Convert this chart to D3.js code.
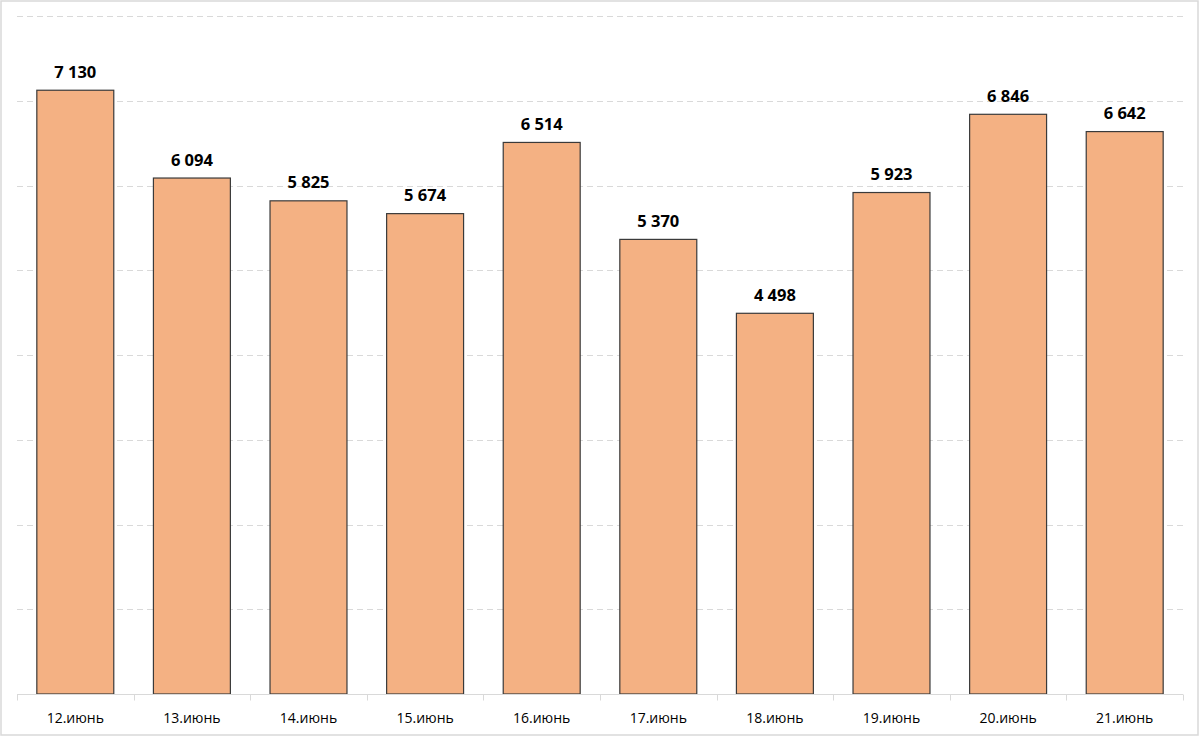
<!DOCTYPE html>
<html><head><meta charset="utf-8">
<script src="https://cdn.jsdelivr.net/npm/d3@7"></script>
<style>body{margin:0;background:#fff}svg{display:block}</style>
</head><body>
<svg id="c" width="1200" height="737"></svg>
<script>
const categories = ["12.июнь","13.июнь","14.июнь","15.июнь","16.июнь","17.июнь","18.июнь","19.июнь","20.июнь","21.июнь"];
const values = [7130,6094,5825,5674,6514,5370,4498,5923,6846,6642];
const yTicks = [0,1000,2000,3000,4000,5000,6000,7000,8000];

const svg = d3.select("#c");
const W=1200,H=737;
const m={l:17,r:17,t:16,b:43};
svg.append("rect").attr("x",1).attr("y",1).attr("width",W-3).attr("height",H-3)
  .attr("fill","#fff").attr("stroke","#d9d9d9").attr("stroke-width",1.5);

const x = d3.scaleBand().domain(categories).range([m.l,W-m.r]).paddingInner(0.34).paddingOuter(0.17);
const y = d3.scaleLinear().domain([0,8000]).range([H-m.b,m.t]);

const g = svg.append("g");
g.selectAll("line.grid").data(yTicks.slice(1)).join("line").attr("class","grid")
  .attr("x1",m.l).attr("x2",W-m.r).attr("y1",d=>Math.round(y(d))+0.5).attr("y2",d=>Math.round(y(d))+0.5)
  .attr("stroke","#d9d9d9").attr("stroke-width",1).attr("stroke-dasharray","6,4");

g.selectAll("rect.bar").data(values).join("rect").attr("class","bar")
  .attr("x",(d,i)=>x(categories[i])).attr("width",x.bandwidth())
  .attr("y",d=>y(d)+0.5).attr("height",d=>y(0)-y(d)-0.5)
  .attr("fill","#F4B183").attr("stroke","#3a3a3a").attr("stroke-width",1.2);

g.selectAll("text.val").data(values).join("text").attr("class","val")
  .attr("x",(d,i)=>x(categories[i])+x.bandwidth()/2).attr("y",d=>y(d)-12)
  .attr("text-anchor","middle").attr("font-family","Open Sans, sans-serif").attr("font-weight","bold")
  .attr("font-size",16.5).attr("fill","#000")
  .text(d=>d3.format(",")(d).replace(/,/g," "));

// x axis
const base = Math.round(y(0))+0.5;
g.append("line").attr("x1",m.l).attr("x2",W-m.r).attr("y1",base).attr("y2",base).attr("stroke","#d9d9d9");
const bounds = d3.range(categories.length+1).map(i=>m.l + (W-m.l-m.r)*i/categories.length);
g.selectAll("line.tk").data(bounds).join("line").attr("class","tk")
  .attr("x1",d=>Math.round(d)+0.5).attr("x2",d=>Math.round(d)+0.5).attr("y1",base).attr("y2",base+6).attr("stroke","#d9d9d9");
g.selectAll("text.cat").data(categories).join("text").attr("class","cat")
  .attr("x",d=>x(d)+x.bandwidth()/2).attr("y",base+28)
  .attr("text-anchor","middle").attr("font-family","Open Sans, sans-serif").attr("font-size",14).attr("fill","#000")
  .text(d=>d);
</script>
</body></html>
